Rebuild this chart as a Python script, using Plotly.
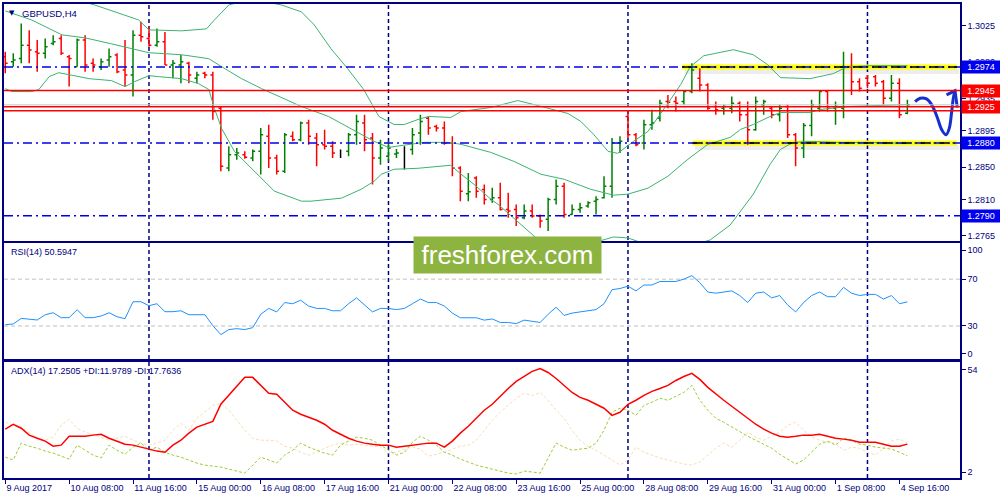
import plotly.graph_objects as go
from plotly.subplots import make_subplots

# ---------------- data ----------------
days = ["2017-08-09", "2017-08-10", "2017-08-11", "2017-08-14", "2017-08-15", "2017-08-16",
        "2017-08-17", "2017-08-18", "2017-08-21", "2017-08-22", "2017-08-23", "2017-08-24",
        "2017-08-25", "2017-08-28", "2017-08-29", "2017-08-30", "2017-08-31", "2017-09-01",
        "2017-09-04"]
hours = ["00:00", "04:00", "08:00", "12:00", "16:00", "20:00"]
times = [f"{d} {h}" for d in days for h in hours]

opens = [1.29869, 1.29807, 1.29848, 1.30012, 1.29930, 1.29910, 1.30033, 1.30094, 1.29869, 1.29745,
         1.30074, 1.29787, 1.29745, 1.29828, 1.29889, 1.29704, 1.29642, 1.30135, 1.30094, 1.30012,
         1.30053, 1.29766, 1.29766, 1.29787, 1.29601, 1.29663, 1.29642, 1.29232, 1.28492, 1.28656,
         1.28656, 1.28615, 1.28698, 1.28883, 1.28615, 1.28451, 1.28883, 1.28842, 1.29047, 1.28862,
         1.28780, 1.28760, 1.28677, 1.28698, 1.28903, 1.29047, 1.28862, 1.28615, 1.28636, 1.28665,
         1.28739, 1.28719, 1.28924, 1.29108, 1.29006, 1.28985, 1.28801, 1.28492, 1.28173, 1.28369,
         1.28226, 1.28102, 1.28122, 1.27979, 1.27979, 1.27876, 1.27958, 1.27897, 1.27856, 1.28102,
         1.28267, 1.27917, 1.27979, 1.28020, 1.28081, 1.28122, 1.28267, 1.28801, 1.29129, 1.28903,
         1.28801, 1.29026, 1.29108, 1.29314, 1.29314, 1.29314, 1.29437, 1.29601, 1.29519, 1.29253,
         1.29232, 1.29232, 1.29294, 1.29149, 1.28965, 1.29273, 1.29232, 1.29149, 1.29253, 1.28903,
         1.28739, 1.29018, 1.29232, 1.29437, 1.29232, 1.29232, 1.29745, 1.29560, 1.29601, 1.29622,
         1.29560, 1.29355, 1.29540, 1.29170]
highs = [1.29930, 1.29910, 1.30279, 1.30197, 1.30074, 1.30094, 1.30135, 1.30135, 1.29889, 1.30094,
         1.30135, 1.29848, 1.29848, 1.29971, 1.29910, 1.30074, 1.30197, 1.30300, 1.30238, 1.30217,
         1.30176, 1.29828, 1.29889, 1.29807, 1.29683, 1.29683, 1.29683, 1.29253, 1.28760, 1.28739,
         1.28698, 1.28719, 1.28985, 1.29026, 1.28656, 1.28924, 1.28944, 1.29067, 1.29088, 1.28924,
         1.28965, 1.28821, 1.28719, 1.28924, 1.29149, 1.29149, 1.28924, 1.28842, 1.28821, 1.28727,
         1.28760, 1.28985, 1.29149, 1.29129, 1.29026, 1.29067, 1.28883, 1.28513, 1.28431, 1.28390,
         1.28287, 1.28246, 1.28308, 1.28185, 1.28040, 1.28040, 1.28040, 1.27917, 1.28122, 1.28349,
         1.28308, 1.28040, 1.28061, 1.28081, 1.28143, 1.28390, 1.28862, 1.28883, 1.29170, 1.28924,
         1.29088, 1.29212, 1.29335, 1.29396, 1.29376, 1.29458, 1.29787, 1.29725, 1.29540, 1.29314,
         1.29273, 1.29376, 1.29314, 1.29314, 1.29376, 1.29335, 1.29253, 1.29273, 1.29273, 1.28924,
         1.29047, 1.29335, 1.29458, 1.29458, 1.29314, 1.29930, 1.29910, 1.29601, 1.29642, 1.29642,
         1.29581, 1.29642, 1.29601, 1.29335]
lows = [1.29663, 1.29745, 1.29787, 1.29787, 1.29683, 1.29848, 1.30012, 1.29889, 1.29499, 1.29745,
        1.29683, 1.29683, 1.29704, 1.29745, 1.29663, 1.29499, 1.29376, 1.30053, 1.29992, 1.29992,
        1.29766, 1.29601, 1.29540, 1.29540, 1.29540, 1.29601, 1.29088, 1.28451, 1.28451, 1.28595,
        1.28607, 1.28574, 1.28410, 1.28492, 1.28410, 1.28431, 1.28821, 1.28821, 1.28780, 1.28513,
        1.28719, 1.28615, 1.28615, 1.28636, 1.28780, 1.28698, 1.28287, 1.28533, 1.28574, 1.28615,
        1.28472, 1.28656, 1.28780, 1.28903, 1.28944, 1.28780, 1.28390, 1.28081, 1.28081, 1.28122,
        1.28040, 1.28061, 1.27966, 1.27876, 1.27774, 1.27856, 1.27876, 1.27753, 1.27712, 1.28040,
        1.27876, 1.27909, 1.27938, 1.27999, 1.27917, 1.28114, 1.28122, 1.28677, 1.28862, 1.28760,
        1.28719, 1.28965, 1.29067, 1.29232, 1.29190, 1.29273, 1.29417, 1.29437, 1.29212, 1.29149,
        1.29149, 1.29170, 1.29067, 1.28780, 1.28952, 1.29149, 1.29108, 1.29067, 1.28862, 1.28513,
        1.28615, 1.28883, 1.29190, 1.29190, 1.29026, 1.29108, 1.29396, 1.29437, 1.29478, 1.29499,
        1.29273, 1.29314, 1.29108, 1.29158]
closes = [1.29787, 1.29828, 1.30012, 1.29951, 1.29910, 1.29992, 1.30053, 1.29910, 1.29848, 1.30074,
          1.29766, 1.29766, 1.29807, 1.29869, 1.29683, 1.29642, 1.30135, 1.30115, 1.30012, 1.30053,
          1.29766, 1.29787, 1.29807, 1.29642, 1.29642, 1.29642, 1.29190, 1.28513, 1.28656, 1.28677,
          1.28623, 1.28698, 1.28903, 1.28615, 1.28451, 1.28903, 1.28842, 1.29047, 1.28883, 1.28780,
          1.28760, 1.28677, 1.28677, 1.28903, 1.29067, 1.28842, 1.28615, 1.28739, 1.28739, 1.28677,
          1.28739, 1.28903, 1.29067, 1.28985, 1.28985, 1.28801, 1.28492, 1.28205, 1.28197, 1.28205,
          1.28102, 1.28122, 1.27979, 1.27958, 1.27876, 1.27958, 1.27897, 1.27835, 1.28102, 1.28267,
          1.27917, 1.27979, 1.27999, 1.28061, 1.28102, 1.28267, 1.28801, 1.28821, 1.28903, 1.28780,
          1.29026, 1.29047, 1.29294, 1.29306, 1.29294, 1.29437, 1.29704, 1.29519, 1.29232, 1.29212,
          1.29253, 1.29294, 1.29149, 1.28965, 1.29314, 1.29314, 1.29149, 1.29232, 1.28903, 1.28739,
          1.29018, 1.29273, 1.29437, 1.29232, 1.29253, 1.29745, 1.29560, 1.29478, 1.29540, 1.29540,
          1.29355, 1.29540, 1.29149, 1.29273]

# Bollinger bands (20,2) read as vertices: bar position, price
bb_up_x = [0, 3.3, 7.1, 11.2, 16.7, 18, 22.1, 25.2, 26.2, 28, 30.8, 34.6, 37.1, 38.7, 40.8, 42.9, 44.9,
           46.2, 46.8, 48.7, 50, 51.7, 53, 55.8, 57.1, 60.8, 64.2, 66.2, 68, 70.5, 72.1, 73.7, 75.5,
           76.7, 78.7, 80.5, 82.9, 84.6, 85.8, 87.5, 88.7, 91.2, 93.7, 95.5, 97.1, 100.8, 103.7,
           105.5, 108.3, 113]
bb_up = [1.31421, 1.31211, 1.30620, 1.30509, 1.30324, 1.30201, 1.30189, 1.30213, 1.30324, 1.30509,
         1.30583, 1.30509, 1.30423, 1.30263, 1.29967, 1.29720, 1.29462, 1.29228, 1.29129, 1.29030,
         1.29030, 1.29092, 1.29129, 1.29117, 1.29191, 1.29240, 1.29326, 1.29277, 1.29228, 1.29166,
         1.29067, 1.28907, 1.28698, 1.28673, 1.28821, 1.28944, 1.29277, 1.29523, 1.29745, 1.29881,
         1.29905, 1.29955, 1.29893, 1.29770, 1.29610, 1.29597, 1.29659, 1.29745, 1.29757, 1.29757]
bb_mid_x = [0, 3.3, 7.1, 10, 13.3, 18, 22.1, 25.5, 27.1, 29.6, 32.1, 37.1, 40.5, 43.3, 46.2, 48, 50.5,
            52.5, 55.5, 57.1, 60.8, 63.7, 67.1, 70, 73.3, 76.2, 78, 80.5, 83, 85.5, 88, 90.8, 92.1,
            93.7, 95.8, 97.1, 100.8, 102.1, 105.5, 108.3, 113]
bb_mid = [1.30435, 1.30324, 1.30139, 1.30102, 1.30028, 1.29918, 1.29893, 1.29844, 1.29745, 1.29597,
          1.29474, 1.29252, 1.29129, 1.28981, 1.28821, 1.28747, 1.28784, 1.28809, 1.28809, 1.28784,
          1.28685, 1.28574, 1.28414, 1.28352, 1.28229, 1.28155, 1.28168, 1.28242, 1.28390, 1.28599,
          1.28784, 1.28870, 1.28969, 1.29030, 1.29129, 1.29178, 1.29178, 1.29215, 1.29252, 1.29264,
          1.29277]
bb_lo_x = [0, 0.8, 3.3, 4.2, 5.5, 6.7, 8, 10.5, 13.3, 15, 16.2, 18, 19.2, 22.1, 24.2, 25.5, 26.2, 27.1,
           28.7, 30.8, 33.7, 37.1, 38.3, 42.1, 44.6, 46.2, 47.1, 48.7, 51.7, 55.8, 57.1, 58.7, 60.8,
           61.7, 63.7, 66.5, 68, 70, 72.7, 74.8, 76.2, 78, 80.5, 83, 85.8, 88.3, 90.8, 93.7, 95.8,
           97.1, 98.7, 100.8, 104.2, 108.3, 113]
bb_lo = [1.29474, 1.29437, 1.29437, 1.29462, 1.29622, 1.29671, 1.29646, 1.29597, 1.29573, 1.29499,
         1.29560, 1.29634, 1.29622, 1.29597, 1.29536, 1.29462, 1.29228, 1.28981, 1.28698, 1.28488,
         1.28205, 1.28081, 1.28081, 1.28118, 1.28229, 1.28328, 1.28414, 1.28476, 1.28488, 1.28525,
         1.28414, 1.28291, 1.28106, 1.28044, 1.27872, 1.27626, 1.27576, 1.27539, 1.27539, 1.27601,
         1.27638, 1.27626, 1.27539, 1.27502, 1.27527, 1.27601, 1.27786, 1.28168, 1.28537, 1.28722,
         1.28808, 1.28821, 1.28808, 1.28808, 1.28796]

rsi = [31.1, 31.7, 36.5, 36.0, 35.1, 39.6, 41.3, 37.1, 37.1, 43.9,
       37.1, 37.1, 38.5, 41.3, 37.9, 36.2, 50.7, 50.7, 47.3, 49.0,
       42.2, 42.2, 43.0, 39.6, 39.6, 39.6, 30.3, 22.6, 26.9, 27.7,
       26.9, 28.6, 40, 45, 42, 50, 49, 52, 47, 45,
       45, 43, 43, 49, 54, 48, 42, 45, 45, 44,
       45, 49, 53, 50, 50, 47, 41, 37, 37, 37,
       35, 36, 33, 33, 32, 35, 34, 33, 40, 46,
       39, 41, 42, 43, 44, 49, 61, 62, 64, 60,
       65, 65, 68, 68, 68, 70, 73, 67, 59, 58,
       59, 60, 56, 50, 58, 59, 54, 56, 48, 42,
       50, 56, 59, 55, 55, 63, 58, 56, 57, 57,
       53, 56, 49, 50.59]
adx = [24.0, 26.2, 24.4, 21.3, 19.9, 18.6, 16.3, 16.8, 20.8, 20.8,
       20.8, 21.3, 21.7, 19.9, 18.6, 17.2, 16.8, 15.9, 15.0, 14.1,
       13.6, 16.8, 19.0, 22.2, 24.9, 26.2, 27.5, 35.2, 39.2, 43.2,
       47.3, 47.3, 43.7, 40.1, 39.7, 36.1, 32.5, 30.7, 29.3, 28.0,
       26.2, 23.5, 21.7, 19.9, 18.6, 17.7, 17.2, 16.8, 16.8, 15.9,
       16.3, 16.8, 17.2, 17.7, 17.7, 15.9, 18.6, 22.2, 25.3, 28.9,
       32.5, 35.2, 38.8, 42.3, 45.5, 47.7, 50.0, 51.3, 49.5, 46.8,
       43.7, 40.5, 38.3, 37.0, 35.2, 33.4, 30.2, 31.6, 35.2, 37.0,
       39.2, 41.0, 42.3, 43.7, 45.9, 47.7, 49.1, 46.4, 42.8, 39.7,
       37.0, 34.3, 31.6, 28.9, 26.2, 24.0, 22.2, 20.8, 20.4, 20.8,
       21.3, 21.3, 21.7, 20.8, 19.9, 19.5, 19.0, 18.1, 18.1, 18.1,
       17.2, 16.3, 16.3, 17.25]
plus_di = [11.4, 10.1, 17.7, 16.3, 15.4, 14.1, 13.2, 11.8, 10.5, 16.8,
           14.5, 12.3, 11.0, 16.8, 14.5, 12.7, 15.9, 17.7, 14.5, 15.9,
           13.6, 12.3, 11.4, 10.1, 8.7, 7.8, 7.4, 6.9, 6.0, 5.1,
           4.2, 7.8, 11.4, 10.1, 8.7, 12.3, 14.5, 17.7, 15.9, 14.5,
           13.2, 12.3, 16.8, 18.6, 20.4, 19.9, 19.0, 16.8, 14.5, 12.3,
           13.6, 18.1, 20.8, 19.0, 16.8, 13.6, 12.3, 10.5, 9.2, 7.8,
           6.9, 6.0, 5.1, 4.2, 3.8, 5.1, 4.7, 4.2, 11.0, 17.7,
           15.9, 14.5, 15.0, 15.4, 17.7, 23.5, 31.6, 33.4, 32.5, 30.2,
           34.7, 36.1, 37.9, 37.0, 38.8, 40.5, 43.7, 37.0, 32.5, 28.9,
           27.1, 24.9, 22.6, 20.8, 19.0, 17.2, 15.4, 12.7, 10.5, 8.3,
           10.1, 13.6, 17.2, 18.6, 16.8, 19.9, 19.0, 17.2, 16.8, 15.9,
           15.4, 15.0, 13.6, 11.98]
minus_di = [27.1, 25.7, 24.9, 22.2, 19.9, 19.0, 20.4, 25.7, 28.4, 24.4,
            22.6, 21.7, 20.4, 19.0, 19.9, 20.8, 19.0, 17.7, 16.8, 17.7,
            19.0, 23.5, 26.6, 23.5, 28.9, 31.6, 34.7, 35.6, 32.5, 28.0,
            23.5, 19.9, 19.0, 19.0, 18.6, 16.3, 15.4, 13.6, 12.3, 13.6,
            15.4, 16.8, 17.7, 16.8, 17.2, 16.8, 16.3, 15.9, 13.2, 13.6,
            15.0, 15.9, 15.0, 11.8, 12.7, 13.6, 15.0, 16.3, 16.8, 19.0,
            23.5, 28.0, 31.6, 34.7, 37.9, 40.1, 39.2, 40.5, 37.0, 32.5,
            28.9, 23.5, 19.0, 16.3, 14.5, 12.3, 10.1, 7.8, 10.1, 15.9,
            13.6, 12.3, 11.0, 10.1, 9.2, 8.3, 7.8, 9.2, 12.3, 15.4,
            17.7, 15.9, 19.0, 22.6, 20.4, 19.0, 20.8, 22.6, 25.7, 27.1,
            23.5, 20.4, 19.0, 18.1, 17.7, 14.5, 15.9, 15.4, 13.6, 12.3,
            15.4, 18.6, 19.5, 17.76]

# chart objects
tick_times = ["2017-08-09 00:00", "2017-08-10 08:00", "2017-08-11 16:00", "2017-08-15 00:00",
              "2017-08-16 08:00", "2017-08-17 16:00", "2017-08-21 00:00", "2017-08-22 08:00",
              "2017-08-23 16:00", "2017-08-25 00:00", "2017-08-28 08:00", "2017-08-29 16:00",
              "2017-08-31 00:00", "2017-09-01 08:00", "2017-09-04 16:00"]
tick_labels = ["9 Aug 2017", "10 Aug 08:00", "11 Aug 16:00", "15 Aug 00:00", "16 Aug 08:00",
               "17 Aug 16:00", "21 Aug 00:00", "22 Aug 08:00", "23 Aug 16:00", "25 Aug 00:00",
               "28 Aug 08:00", "29 Aug 16:00", "31 Aug 00:00", "1 Sep 08:00", "4 Sep 16:00"]
separators = ["2017-08-14 00:00", "2017-08-21 00:00", "2017-08-28 00:00", "2017-09-04 00:00"]
price_ticks = [1.3025, 1.2980, 1.2935, 1.2895, 1.2850, 1.2810, 1.2765]
blue_levels = [1.2974, 1.2880, 1.2790]
red_levels = [1.2945, 1.2925, 1.2920]
zone_levels = [1.2974, 1.2880]
zone_start = [84.8, 86.1]
zone_end = 119.2
blue_tags = [1.2974, 1.2880, 1.2790]
red_tags = [1.2945, 1.2925]
arrow_x = [113.96, 114.6, 115.4, 116.05, 116.7, 117.3, 117.85, 118.25, 118.55, 118.75, 118.96]
arrow_y = [1.29314, 1.29355, 1.29347, 1.29273, 1.29129, 1.28965, 1.28903, 1.28985, 1.29191,
           1.29355, 1.29446]
head_x = [117.9, 118.96, 119.25]
head_y = [1.29396, 1.29446, 1.29240]

# ---------------- figure ----------------
NAVY = "#000080"
FONT = "Liberation Sans"
xi = list(range(len(times)))

fig = make_subplots(rows=3, cols=1, shared_xaxes=True, vertical_spacing=0.005)

# Bollinger bands
for bx, by in ((bb_up_x, bb_up), (bb_mid_x, bb_mid), (bb_lo_x, bb_lo)):
    fig.add_trace(go.Scatter(x=bx, y=by, mode="lines", line=dict(color="#3CB371", width=1),
                             hoverinfo="skip", showlegend=False), row=1, col=1)

# OHLC bars
reg = [i for i in xi if opens[i] != closes[i]]
doj = [i for i in xi if opens[i] == closes[i]]
fig.add_trace(go.Ohlc(x=reg, open=[opens[i] for i in reg], high=[highs[i] for i in reg],
                      low=[lows[i] for i in reg], close=[closes[i] for i in reg],
                      increasing=dict(line=dict(color="#008000", width=1.5)),
                      decreasing=dict(line=dict(color="#FF0000", width=1.5)),
                      tickwidth=0.3, hoverinfo="skip", showlegend=False), row=1, col=1)
if doj:
    gap = (doj[1] - doj[0]) if len(doj) > 1 else 1
    fig.add_trace(go.Ohlc(x=doj, open=[opens[i] for i in doj], high=[highs[i] for i in doj],
                          low=[lows[i] for i in doj], close=[closes[i] for i in doj],
                          increasing=dict(line=dict(color="#000000", width=1.5)),
                          decreasing=dict(line=dict(color="#000000", width=1.5)),
                          tickwidth=min(0.5, 0.3 / gap), hoverinfo="skip", showlegend=False),
                  row=1, col=1)

# hand drawn arrow
fig.add_trace(go.Scatter(x=arrow_x, y=arrow_y, mode="lines", line=dict(color="#1530D0", width=3, shape="spline"),
                         hoverinfo="skip", showlegend=False), row=1, col=1)
fig.add_trace(go.Scatter(x=head_x, y=head_y, mode="lines", line=dict(color="#1530D0", width=3),
                         hoverinfo="skip", showlegend=False), row=1, col=1)

# RSI
fig.add_trace(go.Scatter(x=xi, y=rsi, mode="lines", line=dict(color="#1E90FF", width=1),
                         hoverinfo="skip", showlegend=False), row=2, col=1)
# ADX
fig.add_trace(go.Scatter(x=xi, y=minus_di, mode="lines", line=dict(color="#F5DEB3", width=1, dash="3px,2px"),
                         hoverinfo="skip", showlegend=False), row=3, col=1)
fig.add_trace(go.Scatter(x=xi, y=plus_di, mode="lines", line=dict(color="#9ACD32", width=1, dash="3px,2px"),
                         hoverinfo="skip", showlegend=False), row=3, col=1)
fig.add_trace(go.Scatter(x=xi, y=adx, mode="lines", line=dict(color="#FF0000", width=1.5),
                         hoverinfo="skip", showlegend=False), row=3, col=1)

shapes = []
# period separators
for s in separators:
    sx = times.index(s)
    shapes.append(dict(type="line", xref="x3", yref="paper", x0=sx, x1=sx, y0=0, y1=1,
                       line=dict(color=NAVY, width=1.5, dash="4px,3px"), layer="below"))
# yellow zones with soft shadow
for lv, x0 in zip(zone_levels, zone_start):
    shapes.append(dict(type="rect", xref="x", yref="y", x0=x0 + 0.3, x1=zone_end + 0.3,
                       ysizemode="pixel", yanchor=lv, y0=-7, y1=-2,
                       fillcolor="rgba(0,0,0,0.07)", line=dict(width=0), layer="below"))
    shapes.append(dict(type="rect", xref="x", yref="y", x0=x0, x1=zone_end,
                       ysizemode="pixel", yanchor=lv, y0=-2.5, y1=2.5,
                       fillcolor="#FFFF00", line=dict(width=0), layer="below"))
# blue dash-dot levels
for lv in blue_levels:
    shapes.append(dict(type="line", xref="x domain", yref="y", x0=0, x1=1, y0=lv, y1=lv,
                       line=dict(color="#0000E6", width=1.5, dash="9px,4px,2px,4px")))
for lv, x0 in zip(zone_levels, zone_start):
    shapes.append(dict(type="line", xref="x", yref="y", x0=x0, x1=zone_end, y0=lv, y1=lv,
                       line=dict(color="#000000", width=1.5, dash="9px,4px,2px,4px")))
# bid line
shapes.append(dict(type="line", xref="x domain", yref="y", x0=0, x1=1, y0=closes[-1], y1=closes[-1],
                   line=dict(color="#C8C8C8", width=1)))
# red levels
for lv in red_levels:
    shapes.append(dict(type="line", xref="x domain", yref="y", x0=0, x1=1, y0=lv, y1=lv,
                       line=dict(color="#FF0000", width=1.5)))
# RSI levels
for lv in (70, 30):
    shapes.append(dict(type="line", xref="x2 domain", yref="y2", x0=0, x1=1, y0=lv, y1=lv,
                       line=dict(color="#C0C0C0", width=1, dash="4px,3px"), layer="below"))

annotations = []
for lv in blue_tags:
    annotations.append(dict(xref="paper", yref="y", x=1, y=lv, xanchor="left", xshift=1,
                            text=f"{lv:.4f}", showarrow=False, bgcolor="#0000F0",
                            font=dict(family=FONT, size=9, color="white"),
                            width=36, height=10, borderpad=1))
for lv in red_tags:
    annotations.append(dict(xref="paper", yref="y", x=1, y=lv, xanchor="left", xshift=1,
                            text=f"{lv:.4f}", showarrow=False, bgcolor="#FF0000",
                            font=dict(family=FONT, size=9, color="white"),
                            width=36, height=10, borderpad=1))
annotations += [
    dict(xref="paper", yref="paper", x=0.0085, y=0.981, text="▼", showarrow=False,
         font=dict(family="DejaVu Sans", size=7, color=NAVY), xanchor="center", yanchor="middle"),
    dict(xref="paper", yref="paper", x=0.0167, y=0.981, text="GBPUSD,H4", showarrow=False,
         font=dict(family=FONT, size=9.5, color=NAVY), xanchor="left", yanchor="middle"),
    dict(xref="paper", yref="paper", x=0.0052, y=0.4769, text="RSI(14) 50.5947", showarrow=False,
         font=dict(family=FONT, size=9, color=NAVY), xanchor="left", yanchor="middle"),
    dict(xref="paper", yref="paper", x=0.0052, y=0.2248,
         text="ADX(14) 17.2505 +DI:11.9789 -DI:17.7636", showarrow=False,
         font=dict(family=FONT, size=9, color=NAVY), xanchor="left", yanchor="middle"),
    dict(xref="paper", yref="paper", x=0.5266, y=0.4706, text="freshforex.com", showarrow=False,
         font=dict(family=FONT, size=26, color="white"), bgcolor="#8DB340",
         width=185, height=34, borderpad=1, xanchor="center", yanchor="middle"),
]

tick_idx = [times.index(t) for t in tick_times]

fig.update_layout(
    width=1000, height=500, margin=dict(l=2, r=40, t=2, b=22),
    paper_bgcolor="white", plot_bgcolor="white", showlegend=False,
    shapes=shapes, annotations=annotations,
    font=dict(family=FONT, size=9, color=NAVY),
)
axis_common = dict(showgrid=False, zeroline=False, showline=True, mirror=True,
                   linecolor=NAVY, linewidth=1.5)
fig.update_xaxes(range=[-0.16, 119.59], rangeslider_visible=False, ticks="", showticklabels=False,
                 **axis_common)
fig.update_xaxes(row=3, col=1, tickmode="array", tickvals=tick_idx, ticktext=tick_labels,
                 ticks="outside", ticklen=4, tickcolor=NAVY, showticklabels=True,
                 ticklabelposition="outside right", tickfont=dict(family=FONT, size=9, color=NAVY))
yfont = dict(family=FONT, size=9, color=NAVY)
fig.update_yaxes(side="right", ticks="outside", ticklen=4, tickcolor=NAVY, tickfont=yfont, **axis_common)
fig.update_layout(
    yaxis=dict(domain=[0.5, 1.0], range=[1.27588, 1.30521], tickmode="array",
               tickvals=price_ticks, ticktext=[f"{v:.4f}" for v in price_ticks]),
    yaxis2=dict(domain=[0.2521, 0.4958], range=[2.2, 100.9], tickmode="array",
                tickvals=[94.9, 70, 30, 6.4], ticktext=["100", "70", "30", "0"]),
    yaxis3=dict(domain=[0.0, 0.2437], range=[2, 54], tickmode="array",
                tickvals=[50.9, 4.7], ticktext=["54", "2"]),
)

fig.write_html("out.html", config={"displayModeBar": False},
               post_script="document.body.style.margin='0px';")
